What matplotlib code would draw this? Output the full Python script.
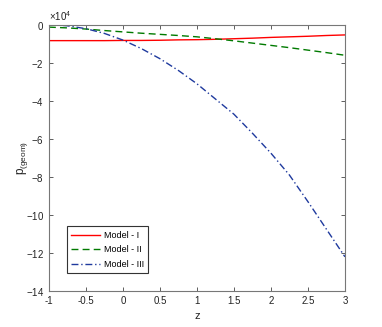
import matplotlib
matplotlib.use('Agg')
import matplotlib.pyplot as plt
from matplotlib.ticker import ScalarFormatter, MultipleLocator
import numpy as np

plt.rcParams['font.family'] = ['Liberation Sans', 'DejaVu Sans']
plt.rcParams['mathtext.default'] = 'regular'
plt.rcParams['axes.unicode_minus'] = False

# z grid and p_(geom) values (in units of 1e4)
z = [-1.0, -0.75, -0.5, -0.25, 0.0, 0.25, 0.5, 0.75, 1.0, 1.25, 1.5, 1.75, 2.0, 2.25, 2.5, 2.75, 3.0]
model1 = [-0.83, -0.83, -0.83, -0.83, -0.82, -0.82, -0.81, -0.79, -0.78, -0.76, -0.73, -0.70, -0.66, -0.63, -0.60, -0.56, -0.53]
model2 = [-0.12, -0.16, -0.22, -0.30, -0.37, -0.44, -0.50, -0.56, -0.63, -0.73, -0.84, -0.96, -1.08, -1.20, -1.33, -1.46, -1.60]
model3 = [0.02, -0.05, -0.20, -0.45, -0.80, -1.25, -1.78, -2.40, -3.10, -3.90, -4.70, -5.70, -6.75, -7.90, -9.30, -10.75, -12.20]
labels = ['Model - I', 'Model - II', 'Model - III']

f = plt.figure(figsize=[3.82, 3.27], dpi=100)
ax = f.add_axes([0.128, 0.110, 0.775, 0.814])

sc = 1e4
ax.plot(z, np.array(model1)*sc, color='#ff0000', lw=1.0, ls='-', label=labels[0])
ax.plot(z, np.array(model2)*sc, color='#007a00', lw=1.0, ls=(0, (5, 3)), label=labels[1])
ax.plot(z, np.array(model3)*sc, color='#1f3a9e', lw=1.0, ls=(0, (5, 2, 1, 2)), label=labels[2])

ax.set_xlim(-1, 3)
ax.set_ylim(-14e4, 0)
ax.yaxis.set_major_locator(MultipleLocator(2e4))

fmt = ScalarFormatter(useMathText=True)
fmt.set_powerlimits((4, 4))
ax.yaxis.set_major_formatter(fmt)
ax.set_xticks(np.arange(-1, 3.01, 0.5))
ax.set_xticklabels(['-1', '-0.5', '0', '0.5', '1', '1.5', '2', '2.5', '3'])
ax.yaxis.get_offset_text().set_fontsize(7)
ax.yaxis.get_offset_text().set_color('#444444')

ax.tick_params(axis='both', which='major', direction='in', top=True, right=True,
               labelsize=7, length=3, width=0.6, colors='#444444', labelcolor='#222222')
for s in ax.spines.values():
    s.set_color('#777777')
    s.set_linewidth(0.8)

ax.set_xlabel('z', fontsize=8, color='#222222', labelpad=4)
ax.set_ylabel('p$_{(geom)}$', fontsize=8.5, color='#222222')
ax.yaxis.set_label_coords(-0.065, 0.5)

leg = ax.legend(loc='lower left', bbox_to_anchor=(0.045, 0.05), fontsize=6.5,
                fancybox=False, framealpha=1, edgecolor='#333333', handlelength=3.2,
                handletextpad=0.4, borderpad=0.5, labelspacing=0.6)
leg.get_frame().set_linewidth(0.8)

plt.savefig('out.png', dpi=100)
